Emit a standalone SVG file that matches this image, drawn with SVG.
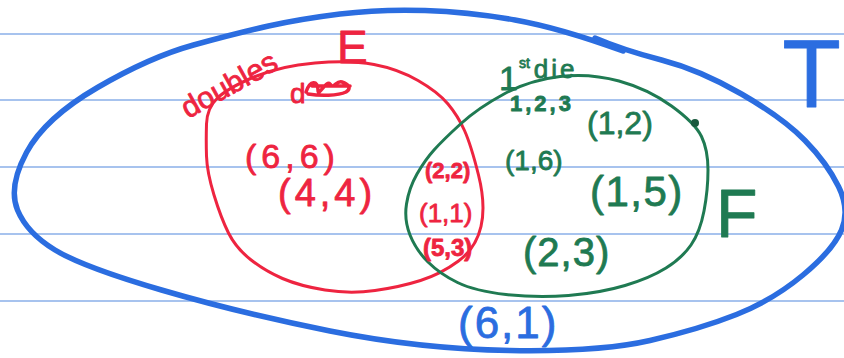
<svg xmlns="http://www.w3.org/2000/svg" width="844" height="358" viewBox="0 0 844 358">
<style>
.rule{stroke:#a7c3ee;stroke-width:2;fill:none}
.set{fill:none;stroke-linecap:round;stroke-linejoin:round}
.blue{stroke:#2b6de0}
.red{stroke:#ee2440}
.green{stroke:#1f7a52}
text{font-family:"Liberation Sans",Arial,sans-serif;stroke-width:0.8;stroke-linejoin:round}
.tb{fill:#2b6de0;stroke:#2b6de0}
.tr{fill:#ee2440;stroke:#ee2440}
.tg{fill:#1f7a52;stroke:#1f7a52}
</style>
<rect width="844" height="358" fill="#ffffff"/>
<g id="paper">
<line class="rule" x1="0" y1="34" x2="844" y2="34"/>
<line class="rule" x1="0" y1="100" x2="844" y2="100"/>
<line class="rule" x1="0" y1="167" x2="844" y2="167"/>
<line class="rule" x1="0" y1="234" x2="844" y2="234"/>
<line class="rule" x1="0" y1="301" x2="844" y2="301"/>
</g>
<g id="set-T">
<path class="set blue" stroke-width="5.5" d="M 623,51 Q 560,28 515,20 Q 470,12 425,10.5 Q 380,9 340,14 Q 300,19 268.5,26 Q 237,33 193.5,45 Q 150,57 97.5,87.5 Q 45,118 26.5,152.5 Q 8,187 17.5,210 Q 27,233 55,250 Q 83,267 161.5,290 Q 240,313 330,331 Q 420,349 510,350.5 Q 600,352 650,340.5 Q 700,329 736.5,314.5 Q 773,300 803,275 Q 833,250 841.5,230 Q 850,210 838.5,186.5 Q 827,163 805,140.5 Q 783,118 741.5,94 Q 700,70 661.5,60 Q 623,50 595,38"/>
<text class="tb" x="841" y="107" font-size="96" text-anchor="end" stroke-width="0">T</text>
<text class="tb" x="458" y="338" font-size="44" letter-spacing="2">(6,1)</text>
</g>
<g id="set-E">
<path class="set red" stroke-width="3" d="M 206.5,124 Q 207,108 217.5,98 Q 228,88 254,77 Q 280,66 315,63 Q 350,60 374,64.5 Q 398,69 418,80.5 Q 438,92 448,104 Q 458,116 464.5,130.5 Q 471,145 478.5,175 Q 486,205 481,226.5 Q 476,248 458.5,261 Q 441,274 420.5,280.5 Q 400,287 375,290.5 Q 350,294 325,290 Q 300,286 282.5,278.5 Q 265,271 250.5,259.5 Q 236,248 228.5,233 Q 221,218 214,195 Q 207,172 206.5,156 Q 206,140 206.5,124 Z"/>
<text class="tr" x="337" y="63" font-size="46">E</text>
<text class="tr" transform="translate(188,119) rotate(-29)" font-size="30">doubles</text>
<text class="tr" x="290" y="103" font-size="28">d</text>
<path class="set red" stroke-width="3.5" d="M 306,92 C 310,80 318,80 318,90 C 318,98 326,80 330,84 C 334,90 336,80 342,82 C 348,84 352,88 346,92 C 338,96 320,96 308,94 M 312,86 L 350,86"/>
<text class="tr" x="245" y="168" font-size="34" letter-spacing="5">(6,6)</text>
<text class="tr" x="278" y="206" font-size="38" letter-spacing="4">(4,4)</text>
</g>
<g id="set-F">
<path class="set green" stroke-width="3" d="M 460.5,124 Q 478,108 504,94 Q 530,80 560,76.5 Q 590,73 619,81 Q 648,89 671.5,106 Q 695,123 701.5,136.5 Q 708,150 708,170 Q 708,190 704,211 Q 700,232 691,245 Q 682,258 666,268 Q 650,278 625,285.5 Q 600,293 568.5,295.5 Q 537,298 506,294.5 Q 475,291 457.5,282.5 Q 440,274 428,262 Q 416,250 410,235 Q 404,220 406.5,204 Q 409,188 417,174 Q 425,160 434,150 Q 443,140 460.5,124 Z"/>
<circle cx="695" cy="123" r="4" fill="#1a5a3e"/>
<text class="tg" x="716" y="237" font-size="68">F</text>
<text class="tg" x="499" y="90" font-size="34">1<tspan font-size="14" dy="-22" dx="1">st</tspan><tspan font-size="26" dy="10" dx="4" letter-spacing="3">die</tspan></text>
<text class="tg" x="510" y="111" font-size="22" font-weight="bold" letter-spacing="3">1,2,3</text>
<text class="tg" x="587" y="134" font-size="32">(1,2)</text>
<text class="tg" x="505" y="170" font-size="28">(1,6)</text>
<text class="tg" x="590" y="206" font-size="42" letter-spacing="1.5">(1,5)</text>
<text class="tg" x="523" y="266" font-size="40" letter-spacing="1">(2,3)</text>
</g>
<g id="intersection-EF">
<text class="tr" x="425" y="178" font-size="22" font-weight="bold">(2,2)</text>
<text class="tr" x="419" y="222" font-size="26">(1,1)</text>
<text class="tr" x="423" y="256" font-size="24" font-weight="bold">(5,3)</text>
</g>
</svg>
